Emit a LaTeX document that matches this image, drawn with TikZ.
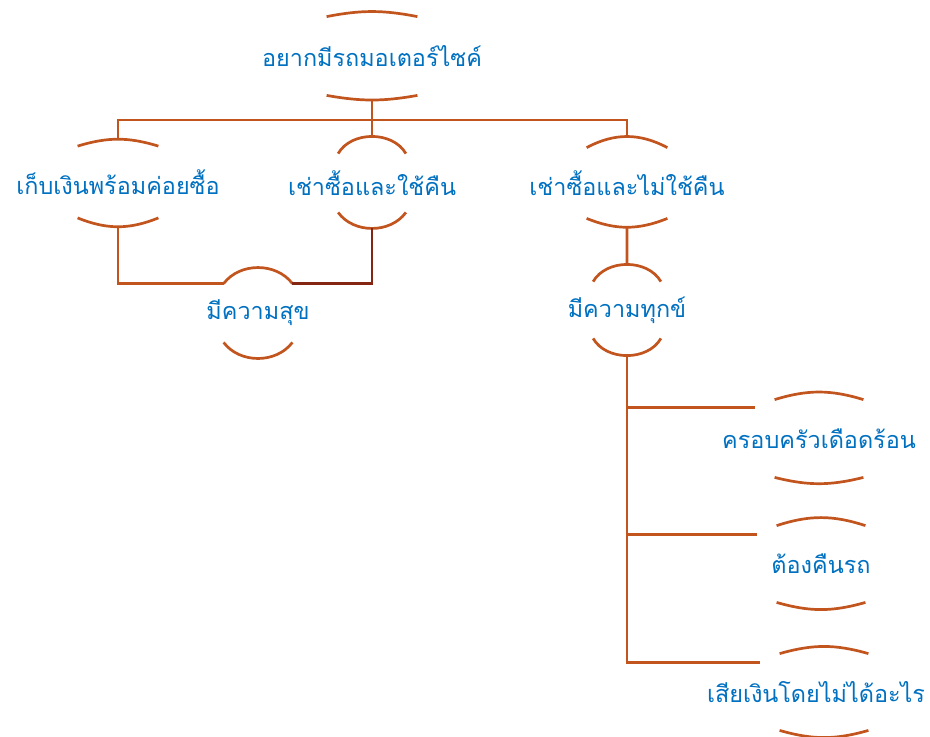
\documentclass[tikz,border=0pt]{standalone}
\usepackage{fontspec}
\usetikzlibrary{calc}
\newfontfamily\thaifont[Script=Thai]{Loma}
\definecolor{rideblue}{RGB}{0,112,192}
\definecolor{rideorange}{RGB}{194,84,30}
\definecolor{ridebrown}{RGB}{132,38,18}

\begin{document}
\begin{tikzpicture}[x=0.5pt, y=-0.5pt,
    choice/.style={inner sep=0pt, text=rideblue, font=\thaifont\fontsize{11.7}{14}\selectfont},
    brace/.style={draw=rideorange, line width=1.35pt},
    link/.style={draw=rideorange, line width=1.35pt}]
  \useasboundingbox (0,0) rectangle (930,736);

  % Goal at the top
  \node[choice, minimum width=45pt, minimum height=39pt] (goal) at (372,56) {\makebox[0pt]{อยากมีรถมอเตอร์ไซค์}};
  \draw[brace] (goal.north west) to[bend left=11] coordinate[midway] (goal-top) (goal.north east);
  \draw[brace] (goal.south west) to[bend right=10] coordinate[midway] (goal-bot) (goal.south east);

  % Three ways
  \node[choice, minimum width=40pt, minimum height=35.5pt] (save) at (118,182) {\makebox[0pt]{เก็บเงินพร้อมค่อยซื้อ}};
  \draw[brace] (save.north west) to[bend left=17] coordinate[midway] (save-top) (save.north east);
  \draw[brace] (save.south west) to[bend right=22] coordinate[midway] (save-bot) (save.south east);

  \node[choice, minimum width=33.5pt, minimum height=29pt] (hire) at (372,183) {\makebox[0pt]{เช่าซื้อและใช้คืน}};
  \draw[brace] (hire.north west) to[bend left=60] coordinate[midway] (hire-top) (hire.north east);
  \draw[brace] (hire.south west) to[bend right=54] coordinate[midway] (hire-bot) (hire.south east);

  \node[choice, minimum width=40pt, minimum height=35pt] (keep) at (627,183) {\makebox[0pt]{เช่าซื้อและไม่ใช้คืน}};
  \draw[brace] (keep.north west) to[bend left=28] coordinate[midway] (keep-top) (keep.north east);
  \draw[brace] (keep.south west) to[bend right=22] coordinate[midway] (keep-bot) (keep.south east);

  % Outcomes
  \node[choice, minimum width=34pt, minimum height=29pt] (happy) at (258,313) {\makebox[0pt]{มีความสุข}};
  \draw[brace] (happy.north west) to[bend left=53] coordinate[midway] (happy-top) (happy.north east);
  \draw[brace] (happy.south west) to[bend right=53] coordinate[midway] (happy-bot) (happy.south east);

  \node[choice, minimum width=33.5pt, minimum height=28pt] (sad) at (627,310) {\makebox[0pt]{มีความทุกข์}};
  \draw[brace] (sad.north west) to[bend left=60] coordinate[midway] (sad-top) (sad.north east);
  \draw[brace] (sad.south west) to[bend right=60] coordinate[midway] (sad-bot) (sad.south east);

  % Consequences
  \node[choice, minimum width=44pt, minimum height=38.5pt] (family) at (819,438.5) {\makebox[0pt]{ครอบครัวเดือดร้อน}};
  \draw[brace] (family.north west) to[bend left=17] coordinate[midway] (family-top) (family.north east);
  \draw[brace] (family.south west) to[bend right=14] coordinate[midway] (family-bot) (family.south east);

  \node[choice, minimum width=44pt, minimum height=38pt] (giveback) at (821,564) {\makebox[0pt]{ต้องคืนรถ}};
  \draw[brace] (giveback.north west) to[bend left=18] coordinate[midway] (giveback-top) (giveback.north east);
  \draw[brace] (giveback.south west) to[bend right=16] coordinate[midway] (giveback-bot) (giveback.south east);

  \node[choice, minimum width=44pt, minimum height=38pt] (loss) at (824,692) {\makebox[0pt]{\hspace*{-8pt}เสียเงินโดยไม่ได้อะไร}};
  \draw[brace] (loss.north west) to[bend left=16] coordinate[midway] (loss-top) (loss.north east);
  \draw[brace] (loss.south west) to[bend right=16] coordinate[midway] (loss-bot) (loss.south east);

  % Connectors
  \coordinate (split) at (goal-bot |- 0,120);
  \draw[link] (goal-bot) -- (split);
  \draw[link] (save-top) |- (split) -| (keep-top);
  \draw[link] (split) -- (hire-top);
  \draw[link] (save-bot) |- (happy.north west);
  \draw[link, draw=ridebrown] (hire-bot) |- (happy.north east);
  \draw[link] (keep-bot) -- (sad-top);

  \coordinate (fork1) at ($(family.north west)+(-20,8)$);
  \coordinate (fork2) at ($(giveback.north west)+(-20,9)$);
  \coordinate (fork3) at ($(loss.north west)+(-20,9)$);
  \draw[link] (sad-bot) |- (fork3);
  \draw[link] (sad-bot |- fork1) -- (fork1);
  \draw[link] (sad-bot |- fork2) -- (fork2);
\end{tikzpicture}
\end{document}
